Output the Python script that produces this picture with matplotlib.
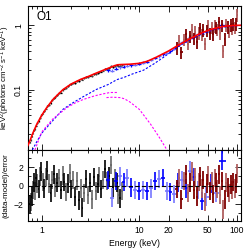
import numpy as np
import matplotlib
matplotlib.use("Agg")
import matplotlib.pyplot as plt
from matplotlib.ticker import FixedLocator, NullFormatter, MultipleLocator, LogLocator

# ---------------- data ----------------
model_E = [0.72, 0.75, 0.81, 0.89, 1.0, 1.12, 1.3, 1.5, 1.65, 2.0, 2.5, 3.0, 3.6, 4.2, 5.0, 5.6, 6.0, 6.5,
           8, 10, 12, 15, 20, 25, 30, 40, 50, 60, 75, 100, 110]
model_F = [0.0135, 0.0155, 0.021, 0.029, 0.040, 0.052, 0.070, 0.087, 0.100, 0.122, 0.144, 0.160, 0.180, 0.198,
           0.220, 0.236, 0.243, 0.245, 0.248, 0.256, 0.275, 0.32, 0.40, 0.49, 0.57, 0.72, 0.83, 0.90, 0.97, 1.0, 1.0]

black_E = [0.75, 0.77, 0.79, 0.81, 0.83, 0.85, 0.87, 0.90, 0.93, 0.96, 0.99, 1.02, 1.06, 1.10, 1.14, 1.18,
           1.23, 1.28, 1.33, 1.38, 1.44, 1.50, 1.56, 1.63, 1.70, 1.77, 1.85, 1.93, 2.01, 2.10, 2.19, 2.29,
           2.39, 2.50, 2.61, 2.73, 2.85, 2.98, 3.12, 3.26, 3.41, 3.57, 3.73, 3.90, 4.08, 4.27, 4.46, 4.67,
           4.88, 5.10, 5.34, 5.58, 5.84, 6.10, 6.38, 6.60]
black_F = [0.0150, 0.0165, 0.0186, 0.0208, 0.0232, 0.0246, 0.0275, 0.0301, 0.0328, 0.0364, 0.0398, 0.0423,
           0.0458, 0.0505, 0.0552, 0.0581, 0.0624, 0.0684, 0.0735, 0.0768, 0.0822, 0.0880, 0.0898, 0.0992,
           0.1035, 0.1068, 0.1131, 0.1200, 0.1213, 0.1270, 0.1265, 0.1360, 0.1350, 0.1437, 0.1430, 0.1512,
           0.1580, 0.1570, 0.1648, 0.1640, 0.1745, 0.1760, 0.1815, 0.1880, 0.1900, 0.1975, 0.2090, 0.2090,
           0.2170, 0.2300, 0.2250, 0.2350, 0.2400, 0.2330, 0.2350, 0.2420]
black_res = [-2.0, -1.8, -1.2, -0.5, 0.3, -0.6, 0.8, 0.2, -0.4, 1.0, 1.5, 0.4, -0.3, 0.9, 1.6, 0.2,
             -0.8, 0.6, 1.2, -0.2, 0.3, 0.8, -0.5, 1.1, 0.4, -0.7, 0.2, 1.3, -0.4, 0.6, -1.2, 0.5,
             -1.6, -0.3, -2.4, -0.8, 0.7, -1.0, 0.3, -1.5, 0.9, -0.6, 0.2, 1.0, -0.4, 0.6, 1.8, 0.5,
             1.0, 2.2, -0.2, 0.8, 0.3, -1.0, -1.4, -0.6]

blue_E = [4.8, 5.3, 5.8, 6.3, 6.9, 7.5, 8.2, 9.0, 9.9, 10.9, 12.0, 13.2, 14.5, 15.9, 17.4, 19.0, 20.8,
          22.8, 25.0, 27.5, 30.2, 33.2, 36.5, 40.1, 44.0, 48.5, 54.0, 61.0, 71.0]
blue_F = [0.200, 0.196, 0.212, 0.222, 0.228, 0.236, 0.240, 0.245, 0.252, 0.262, 0.272, 0.288, 0.31, 0.33,
          0.355, 0.37, 0.395, 0.43, 0.50, 0.545, 0.575, 0.65, 0.70, 0.72, 0.74, 0.79, 0.84, 0.89, 1.02]
blue_res = [0.6, -1.3, 0.5, 1.0, 0.4, 0.8, -0.2, -0.5, -0.6, -0.5, -0.6, -0.3, 0.5, 0.7, 0.8, -0.6, -0.7,
            -0.9, 0.3, 0.6, -0.3, 1.6, 0.9, -0.5, -1.7, -1.2, 0.2, -0.8, 2.7]

maroon_E = [24, 25.5, 27, 28.5, 30, 31.5, 33, 34.5, 36, 37.5, 39, 40.5, 42, 43.5, 45, 47, 49, 51, 53, 55,
            57, 59, 61, 63, 65, 67.5, 70, 72.5, 75, 77.5, 80, 83, 86, 89, 92, 95, 98, 101]
maroon_F = [0.45, 0.58, 0.38, 0.60, 0.72, 0.52, 0.67, 0.85, 0.63, 0.80, 0.55, 0.77, 0.90, 0.72, 0.85, 0.52,
            0.84, 1.0, 0.75, 0.93, 0.72, 0.98, 0.93, 0.86, 1.12, 0.75, 1.0, 0.40, 0.62, 1.02, 0.95, 0.82,
            1.01, 0.90, 1.05, 0.93, 1.05, 1.45]
maroon_res = [-0.4, 0.8, -1.5, 0.5, 1.2, -0.8, 0.3, 1.5, -0.5, 0.9, -1.2, 0.4, 1.0, -0.3, 0.6, -1.8, 0.2,
              1.1, -0.6, 0.5, -0.9, 0.8, 0.3, -0.4, 1.2, -1.0, 0.5, -2.6, -1.5, 0.3, -0.2, -0.8, 0.1,
              -0.5, 0.4, -0.3, 0.2, 1.3]

blue_comp_E = [0.80, 0.9, 1.0, 1.3, 1.64, 2.0, 2.6, 3.6, 4.8, 5.9, 6.9, 8.5, 11, 14, 17.8, 22.6, 28, 35,
               45, 60, 80, 110]
blue_comp_F = [0.0115, 0.016, 0.021, 0.033, 0.049, 0.060, 0.076, 0.100, 0.12, 0.143, 0.154, 0.175, 0.20,
               0.25, 0.32, 0.42, 0.52, 0.62, 0.75, 0.88, 0.96, 1.0]

mag_a_E = [0.85, 1.0, 1.3, 1.8, 2.2, 2.65, 3.5, 4.3, 5.0, 5.9]
mag_a_F = [0.0115, 0.022, 0.035, 0.052, 0.062, 0.070, 0.080, 0.086, 0.090, 0.090]
mag_b_E = [4.6, 5.3, 6.3, 7, 8, 10, 13, 16, 19.5]
mag_b_F = [0.075, 0.076, 0.075, 0.072, 0.064, 0.049, 0.029, 0.018, 0.011]

black_relerr = 0.03
blue_relerr = 0.05
maroon_relerr = 0.22

# ---------------- plot ----------------
plt.rcParams['font.family'] = ['Liberation Sans', 'DejaVu Sans']
plt.rcParams['mathtext.fontset'] = 'custom'
plt.rcParams['mathtext.rm'] = 'Liberation Sans'
plt.rcParams['mathtext.it'] = 'Liberation Sans:italic'
fig = plt.figure(figsize=(2.49, 2.49), dpi=100)
ax1 = fig.add_axes([0.112, 0.398, 0.856, 0.578])
ax2 = fig.add_axes([0.112, 0.112, 0.856, 0.286], sharex=ax1)


def half_widths(E):
    E = np.asarray(E, float)
    edges = np.sqrt(E[1:] * E[:-1])
    lo = np.concatenate([[E[0] ** 2 / edges[0]], edges])
    hi = np.concatenate([edges, [E[-1] ** 2 / edges[-1]]])
    return np.vstack([E - lo, hi - E])


def draw_set(ax, E, y, yerr, c_dark, c_light, lw=1.0):
    E = np.asarray(E, float)
    y = np.asarray(y, float)
    yerr = np.broadcast_to(np.asarray(yerr, float), y.shape)
    xe = half_widths(E)
    for sl, col in ((slice(1, None, 2), c_light), (slice(0, None, 2), c_dark)):
        ax.errorbar(E[sl], y[sl], yerr=yerr[sl], xerr=xe[:, sl], fmt='none', ecolor=col,
                    elinewidth=lw, capsize=0)


# top panel
bF = np.asarray(black_F)
draw_set(ax1, black_E, bF, bF * black_relerr, 'black', '#444444', lw=0.9)
bl = np.asarray(blue_F)
draw_set(ax1, blue_E, bl, bl * blue_relerr, 'blue', '#6f6fff', lw=0.9)
mr = np.asarray(maroon_F)
draw_set(ax1, maroon_E, mr, mr * maroon_relerr, '#7f0000', '#b05a5a', lw=1.3)
ax1.plot(model_E, model_F, color='red', lw=1.2, zorder=5)
ax1.plot(blue_comp_E, blue_comp_F, color='blue', lw=0.8, ls=(0, (2, 1.5)), zorder=4)
ax1.plot(mag_a_E, mag_a_F, color='magenta', lw=0.8, ls=(0, (2, 1.5)), zorder=4)
ax1.plot(mag_b_E, mag_b_F, color='magenta', lw=0.8, ls=(0, (2, 1.5)), zorder=4)

ax1.set_xscale('log')
ax1.set_yscale('log')
ax1.set_xlim(0.72, 110)
ax1.set_ylim(0.0115, 2.0)
ax1.yaxis.set_major_locator(FixedLocator([0.1, 1]))
ax1.yaxis.set_major_formatter(matplotlib.ticker.FixedFormatter(['0.1', '1']))
ax1.yaxis.set_minor_locator(LogLocator(base=10, subs=np.arange(2, 10)))
ax1.yaxis.set_minor_formatter(NullFormatter())
ax1.tick_params(axis='x', which='both', labelbottom=False)
ax1.tick_params(axis='y', labelrotation=90)
for lab in ax1.get_yticklabels():
    lab.set_va('center')
ax1.set_ylabel(r'keV$^2$(photons cm$^{-2}$ s$^{-1}$ keV$^{-1}$)', fontsize=5.6, labelpad=1.5)
ax1.text(0.04, 0.92, 'O1', transform=ax1.transAxes, fontsize=8.5, va='center', ha='left')

# bottom panel
draw_set(ax2, black_E, black_res, 1.0, 'black', '#666666', lw=1.2)
draw_set(ax2, blue_E, blue_res, 1.0, 'blue', '#7777ff', lw=1.2)
draw_set(ax2, maroon_E, maroon_res, 1.0, '#7f0000', '#b06060', lw=1.3)
ax2.axhline(0, color='black', lw=0.8, ls=(0, (4, 2)), zorder=6)
ax2.set_ylim(-3.85, 3.85)
ax2.yaxis.set_major_locator(FixedLocator([-2, 0, 2]))
ax2.yaxis.set_minor_locator(MultipleLocator(1))
ax2.xaxis.set_major_locator(FixedLocator([1, 10, 20, 50, 100]))
ax2.xaxis.set_major_formatter(matplotlib.ticker.FixedFormatter(['1', '10', '20', '50', '100']))
ax2.xaxis.set_minor_locator(LogLocator(base=10, subs=np.arange(2, 10)))
ax2.xaxis.set_minor_formatter(NullFormatter())
ax2.set_xlabel('Energy (keV)', fontsize=6.2, labelpad=3)
ax2.set_ylabel('(data-model)/error', fontsize=5.8, labelpad=2.5)

for ax in (ax1, ax2):
    ax.tick_params(which='both', direction='in', top=True, right=True, labelsize=6.2, width=0.6)
    ax.tick_params(which='major', length=4)
    ax.tick_params(which='minor', length=2)
    for s in ax.spines.values():
        s.set_linewidth(0.8)
ax1.tick_params(axis='y', labelrotation=90)

fig.savefig('out.png', dpi=100)
